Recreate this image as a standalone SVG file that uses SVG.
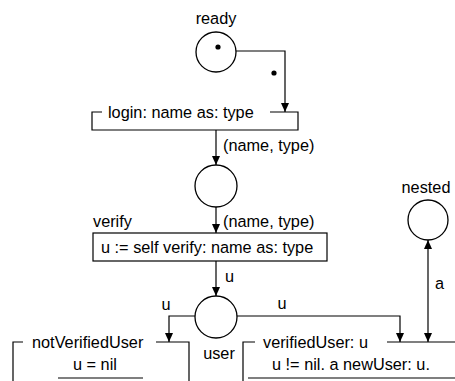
<svg xmlns="http://www.w3.org/2000/svg" width="455" height="381" viewBox="0 0 455 381">
  <style>
    text { font-family: "Liberation Sans", Arial, sans-serif; font-size: 16.3px; fill: #000; }
    .mid { text-anchor: middle; }
    .place { fill: #fff; stroke: #000; stroke-width: 1.3; }
    .token { fill: #000; }
    .edge { fill: none; stroke: #000; stroke-width: 1.2; }
    .box { fill: none; stroke: #000; stroke-width: 1.2; }
  </style>
  <defs>
    <marker id="arrow" viewBox="0 0 9 8" refX="9" refY="4" markerWidth="9" markerHeight="8" markerUnits="userSpaceOnUse" orient="auto-start-reverse">
      <path d="M0,0 L9,4 L0,8 z" fill="#000"/>
    </marker>
  </defs>

  <rect width="455" height="381" fill="#fff"/>

  <!-- places -->
  <g id="ready">
    <text class="mid" x="216" y="24">ready</text>
    <circle class="place" cx="216" cy="52" r="20"/>
    <circle class="token" cx="218" cy="47" r="2.6"/>
  </g>
  <g id="pending">
    <circle class="place" cx="216" cy="186" r="21"/>
  </g>
  <g id="user">
    <circle class="place" cx="216" cy="317" r="21"/>
    <text class="mid" x="219" y="359">user</text>
  </g>
  <g id="nested">
    <text class="mid" x="426" y="193">nested</text>
    <circle class="place" cx="428" cy="220" r="20"/>
  </g>

  <!-- transitions -->
  <g id="login">
    <path class="box" d="M102,112 H92 V130 H298 V112 H270"/>
    <text x="108" y="118">login: name as: type</text>
  </g>
  <g id="verify">
    <text x="93" y="227">verify</text>
    <rect class="box" x="93" y="233" width="234" height="28"/>
    <text x="101" y="253">u := self verify: name as: type</text>
  </g>
  <g id="notVerifiedUser">
    <path class="box" d="M23,342 H13 V381 M156,342 H189 V381"/>
    <text x="32" y="348">notVerifiedUser</text>
    <text x="73" y="370">u = nil</text>
    <line class="box" x1="58" y1="378" x2="143" y2="378"/>
  </g>
  <g id="verifiedUser">
    <path class="box" d="M255,342 H243 V381 M387,342 H455"/>
    <text x="263" y="348">verifiedUser: u</text>
    <text x="272" y="370">u != nil. a newUser: u.</text>
    <line class="box" x1="248" y1="378" x2="455" y2="378"/>
  </g>

  <!-- arcs -->
  <g id="connectors">
    <polyline class="edge" points="236,51 285,51 285,112" marker-end="url(#arrow)"/>
    <circle class="token" cx="274" cy="73" r="2.6"/>

    <line class="edge" x1="216" y1="130" x2="216" y2="165" marker-end="url(#arrow)"/>
    <text x="223" y="151">(name, type)</text>

    <line class="edge" x1="216" y1="207" x2="216" y2="233" marker-end="url(#arrow)"/>
    <text x="223" y="227">(name, type)</text>

    <line class="edge" x1="216" y1="261" x2="216" y2="296" marker-end="url(#arrow)"/>
    <text x="225" y="282">u</text>

    <polyline class="edge" points="195,316 169,316 169,342" marker-end="url(#arrow)"/>
    <text class="mid" x="166" y="310">u</text>

    <polyline class="edge" points="237,316 400,316 400,342" marker-end="url(#arrow)"/>
    <text class="mid" x="282" y="309">u</text>

    <line class="edge" x1="428" y1="240" x2="428" y2="342" marker-start="url(#arrow)" marker-end="url(#arrow)"/>
    <text x="435" y="289">a</text>
  </g>
</svg>
